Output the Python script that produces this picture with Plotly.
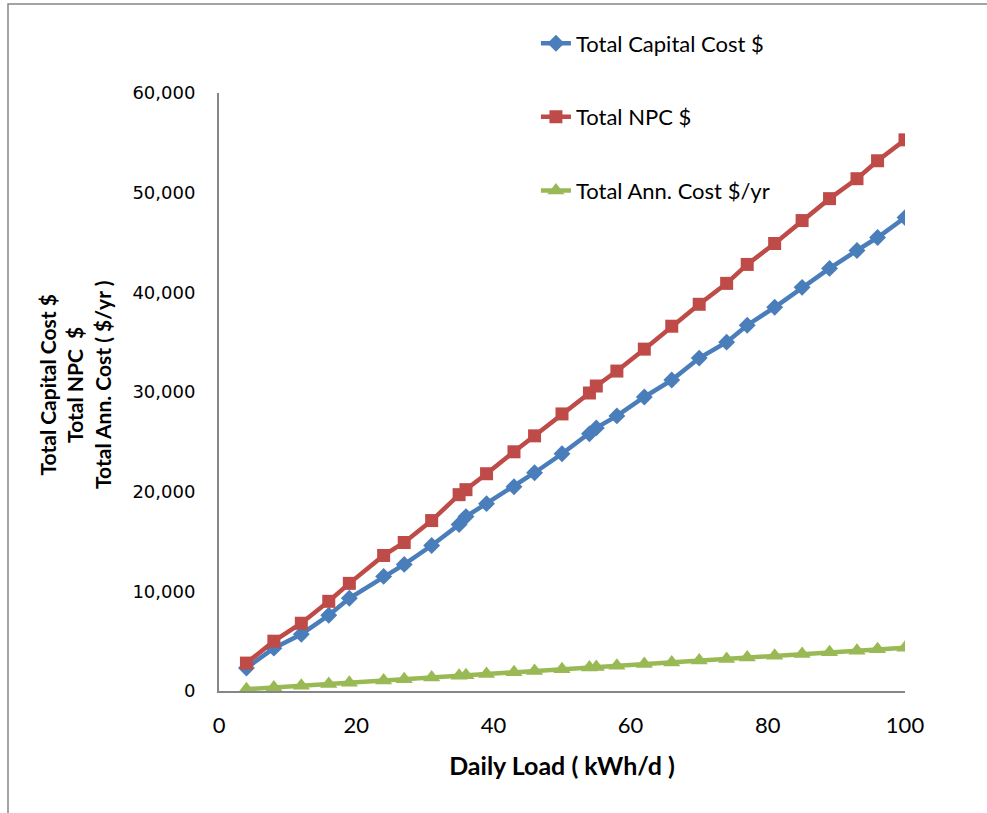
import plotly.graph_objects as go

# Daily load (kWh/d)
daily_load = [4, 8, 12, 16, 19, 24, 27, 31, 35, 36, 39, 43, 46, 50, 54, 55,
              58, 62, 66, 70, 74, 77, 81, 85, 89, 93, 96, 100]

# Total capital cost ($)
capital_cost = [2300, 4300, 5700, 7600, 9300, 11500, 12700, 14600, 16700, 17500,
                18800, 20500, 21900, 23800, 25800, 26400, 27600, 29500, 31200,
                33400, 35000, 36700, 38500, 40500, 42400, 44200, 45500, 47500]

# Total net present cost ($)
npc = [2800, 5000, 6800, 9000, 10800, 13600, 14900, 17100, 19700, 20200,
       21800, 24000, 25600, 27800, 29900, 30600, 32100, 34300, 36600,
       38800, 40900, 42800, 44900, 47200, 49400, 51400, 53200, 55300]

# Total annualized cost ($/yr)
ann_cost = [180, 350, 520, 700, 830, 1050, 1170, 1350, 1520, 1570, 1700, 1870,
            2000, 2180, 2350, 2400, 2530, 2700, 2870, 3050, 3220, 3350, 3530,
            3700, 3880, 4050, 4180, 4350]

x_ticks = [0, 20, 40, 60, 80, 100]
y_ticks = [0, 10000, 20000, 30000, 40000, 50000, 60000]

series = [
    ("Total Capital Cost $", capital_cost, "#4A7EBB", "diamond", 13),
    ("Total NPC $", npc, "#BE4B48", "square", 13),
    ("Total Ann. Cost $/yr", ann_cost, "#98B954", "triangle-up", 15),
]

fig = go.Figure()
for i, (name, vals, color, symbol, size) in enumerate(series):
    fig.add_trace(go.Scatter(
        x=daily_load, y=vals, name=name, mode="lines+markers",
        line=dict(color=color, width=4.5),
        marker=dict(symbol=symbol, size=size, color=color),
        legendgroup=f"g{i}",
    ))

label_family = "Lato, sans-serif"

fig.update_layout(
    width=987, height=813,
    margin=dict(l=219, r=82, t=93, b=122),
    paper_bgcolor="white", plot_bgcolor="white",
    showlegend=True,
    legend=dict(
        x=0.462, y=1.118, xanchor="left", yanchor="top",
        font=dict(family=label_family, size=22, color="#000000"),
        tracegroupgap=42, bgcolor="rgba(0,0,0,0)",
    ),
    xaxis=dict(
        range=[0, 100], tickvals=x_ticks, showgrid=False, zeroline=False,
        showline=True, linecolor="#868686", linewidth=2, ticks="",
        tickfont=dict(family=label_family, size=22, color="#000000"),
        ticklabelstandoff=14,
        title=dict(text="<b>Daily Load ( kWh/d )</b>",
                   font=dict(family=label_family, size=25, color="#000000"),
                   standoff=20),
    ),
    yaxis=dict(
        range=[0, 60000], tickvals=y_ticks, tickformat=",", showgrid=False,
        zeroline=False, showline=True, linecolor="#868686", linewidth=2, ticks="",
        tickfont=dict(family="DejaVu Sans, sans-serif", size=18, color="#000000"),
        ticklabelstandoff=18,
    ),
    annotations=[dict(
        text="<b>Total Capital Cost $<br>Total NPC  $<br>Total Ann. Cost ( $/yr )</b>",
        xref="paper", yref="paper", x=(75 - 219) / 686, y=(691 - 385) / 598,
        xanchor="center", yanchor="middle",
        textangle=-90, showarrow=False, align="center",
        font=dict(family=label_family, size=21, color="#000000"),
    )],
    shapes=[dict(
        type="rect", xref="paper", yref="paper",
        x0=(8 - 219) / 686, x1=(1000 - 219) / 686,
        y0=(691 - 830) / 598, y1=(691 - 4) / 598,
        line=dict(color="#868686", width=1.5), fillcolor="rgba(0,0,0,0)", layer="below",
    )],
)

fig.write_html("out.html")
